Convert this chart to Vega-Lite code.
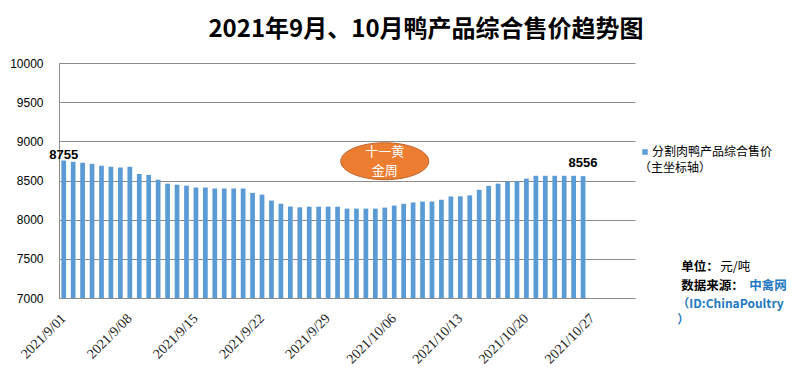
{
  "$schema": "https://vega.github.io/schema/vega-lite/v6.json",
  "width": 576,
  "height": 235,
  "autosize": {"type": "none"},
  "padding": {"left": 59, "top": 63, "right": 163, "bottom": 85},
  "background": "white",
  "config": {"view": {"stroke": null}},
  "title": {
    "text": "2021年9月、10月鸭产品综合售价趋势图",
    "font": "Noto Sans CJK SC",
    "fontSize": 24,
    "fontWeight": "bold",
    "color": "#000000",
    "anchor": "middle",
    "dx": 79,
    "offset": 15
  },
  "resolve": {"axis": {"x": "independent", "y": "independent"}},
  "datasets": {
    "prices": [
      {"date": "2021/9/01", "price": 8755},
      {"date": "2021/9/02", "price": 8739},
      {"date": "2021/9/03", "price": 8726},
      {"date": "2021/9/04", "price": 8713},
      {"date": "2021/9/05", "price": 8688},
      {"date": "2021/9/06", "price": 8676},
      {"date": "2021/9/07", "price": 8667},
      {"date": "2021/9/08", "price": 8676},
      {"date": "2021/9/09", "price": 8583},
      {"date": "2021/9/10", "price": 8570},
      {"date": "2021/9/11", "price": 8510},
      {"date": "2021/9/12", "price": 8460},
      {"date": "2021/9/13", "price": 8446},
      {"date": "2021/9/14", "price": 8434},
      {"date": "2021/9/15", "price": 8410},
      {"date": "2021/9/16", "price": 8410},
      {"date": "2021/9/17", "price": 8398},
      {"date": "2021/9/18", "price": 8398},
      {"date": "2021/9/19", "price": 8398},
      {"date": "2021/9/20", "price": 8398},
      {"date": "2021/9/21", "price": 8342},
      {"date": "2021/9/22", "price": 8319},
      {"date": "2021/9/23", "price": 8244},
      {"date": "2021/9/24", "price": 8203},
      {"date": "2021/9/25", "price": 8168},
      {"date": "2021/9/26", "price": 8158},
      {"date": "2021/9/27", "price": 8166},
      {"date": "2021/9/28", "price": 8166},
      {"date": "2021/9/29", "price": 8166},
      {"date": "2021/9/30", "price": 8166},
      {"date": "2021/10/01", "price": 8141},
      {"date": "2021/10/02", "price": 8141},
      {"date": "2021/10/03", "price": 8141},
      {"date": "2021/10/04", "price": 8141},
      {"date": "2021/10/05", "price": 8154},
      {"date": "2021/10/06", "price": 8180},
      {"date": "2021/10/07", "price": 8203},
      {"date": "2021/10/08", "price": 8220},
      {"date": "2021/10/09", "price": 8231},
      {"date": "2021/10/10", "price": 8231},
      {"date": "2021/10/11", "price": 8254},
      {"date": "2021/10/12", "price": 8296},
      {"date": "2021/10/13", "price": 8298},
      {"date": "2021/10/14", "price": 8310},
      {"date": "2021/10/15", "price": 8381},
      {"date": "2021/10/16", "price": 8432},
      {"date": "2021/10/17", "price": 8460},
      {"date": "2021/10/18", "price": 8487},
      {"date": "2021/10/19", "price": 8494},
      {"date": "2021/10/20", "price": 8524},
      {"date": "2021/10/21", "price": 8560},
      {"date": "2021/10/22", "price": 8560},
      {"date": "2021/10/23", "price": 8560},
      {"date": "2021/10/24", "price": 8560},
      {"date": "2021/10/25", "price": 8560},
      {"date": "2021/10/26", "price": 8556}
    ]
  },
  "layer": [
    {
      "data": {"name": "prices"},
      "mark": {"type": "bar", "width": {"band": 0.5}},
      "encoding": {
        "x": {
          "field": "date",
          "type": "ordinal",
          "sort": null,
          "scale": {
            "type": "band",
            "paddingInner": 0,
            "paddingOuter": 0,
            "domain": ["2021/9/01","2021/9/02","2021/9/03","2021/9/04","2021/9/05","2021/9/06","2021/9/07","2021/9/08","2021/9/09","2021/9/10","2021/9/11","2021/9/12","2021/9/13","2021/9/14","2021/9/15","2021/9/16","2021/9/17","2021/9/18","2021/9/19","2021/9/20","2021/9/21","2021/9/22","2021/9/23","2021/9/24","2021/9/25","2021/9/26","2021/9/27","2021/9/28","2021/9/29","2021/9/30","2021/10/01","2021/10/02","2021/10/03","2021/10/04","2021/10/05","2021/10/06","2021/10/07","2021/10/08","2021/10/09","2021/10/10","2021/10/11","2021/10/12","2021/10/13","2021/10/14","2021/10/15","2021/10/16","2021/10/17","2021/10/18","2021/10/19","2021/10/20","2021/10/21","2021/10/22","2021/10/23","2021/10/24","2021/10/25","2021/10/26","2021/10/27","2021/10/28","2021/10/29","2021/10/30","2021/10/31"]
          },
          "axis": {
            "title": null,
            "values": ["2021/9/01","2021/9/08","2021/9/15","2021/9/22","2021/9/29","2021/10/06","2021/10/13","2021/10/20","2021/10/27"],
            "labelAngle": -45,
            "labelAlign": "right",
            "labelBaseline": "middle",
            "labelPadding": 18,
            "labelFont": "Liberation Serif",
            "labelFontSize": 14,
            "labelColor": "#222222",
            "labelOverlap": false,
            "ticks": false,
            "domainColor": "#8c8c8c",
            "domainWidth": 1,
            "grid": false
          }
        },
        "y": {
          "field": "price",
          "type": "quantitative",
          "scale": {"domain": [7000, 10000], "zero": false, "nice": false},
          "axis": {
            "title": null,
            "values": [7000, 7500, 8000, 8500, 9000, 9500, 10000],
            "format": "d",
            "labelFont": "Liberation Sans",
            "labelFontSize": 12,
            "labelColor": "#000000",
            "labelPadding": 16,
            "labelOverlap": false,
            "ticks": false,
            "grid": true,
            "gridColor": "#8c8c8c",
            "gridWidth": 1,
            "domainColor": "#8c8c8c",
            "domainWidth": 1
          }
        },
        "y2": {"datum": 7000},
        "color": {
          "datum": "分割肉鸭产品综合售价",
          "scale": {"range": ["#5B9BD5"]},
          "legend": {
            "title": "（主坐标轴）",
            "titleOrient": "bottom",
            "titleFont": "Noto Sans CJK SC",
            "titleFontSize": 12,
            "titleFontWeight": "normal",
            "titleColor": "#000000",
            "titlePadding": 5,
            "titleAnchor": "start",
            "orient": "none",
            "legendX": 580,
            "legendY": 83,
            "symbolType": "square",
            "symbolSize": 30,
            "symbolStrokeWidth": 0,
            "labelFont": "Noto Sans CJK SC",
            "labelFontSize": 12,
            "labelColor": "#000000",
            "labelBaseline": "middle",
            "labelOffset": 1,
            "labelLimit": 200
          }
        }
      }
    },
    {
      "data": {"name": "prices"},
      "transform": [{"filter": "datum.date === '2021/9/01'"}],
      "mark": {"type": "text", "font": "Liberation Sans", "fontSize": 13, "fontWeight": "bold", "color": "#000000", "baseline": "middle", "dy": -6},
      "encoding": {
        "x": {"field": "date", "type": "ordinal", "sort": null, "axis": null},
        "y": {"field": "price", "type": "quantitative", "axis": null},
        "text": {"field": "price", "type": "quantitative", "format": "d"}
      }
    },
    {
      "data": {"name": "prices"},
      "transform": [{"filter": "datum.date === '2021/10/26'"}],
      "mark": {"type": "text", "font": "Liberation Sans", "fontSize": 13, "fontWeight": "bold", "color": "#000000", "baseline": "middle", "dy": -13},
      "encoding": {
        "x": {"field": "date", "type": "ordinal", "sort": null, "axis": null},
        "y": {"field": "price", "type": "quantitative", "axis": null},
        "text": {"field": "price", "type": "quantitative", "format": "d"}
      }
    },
    {
      "data": {"values": [{"note": "十一黄\n金周"}]},
      "mark": {"type": "point", "shape": "M-1,0A1,0.42,0,1,1,1,0A1,0.42,0,1,1,-1,0Z", "size": 7744, "filled": true, "fill": "#ED7D31", "stroke": "#C0632A", "strokeWidth": 1, "opacity": 1},
      "encoding": {
        "x": {"datum": "2021/10/05", "type": "ordinal", "axis": null},
        "y": {"datum": 8746, "type": "quantitative", "axis": null}
      }
    },
    {
      "data": {"values": [{"note": "十一黄\n金周"}]},
      "mark": {"type": "text", "font": "Noto Sans CJK SC", "fontSize": 13, "color": "#FFFFFF", "lineBreak": "\n", "lineHeight": 19, "baseline": "middle", "align": "center", "dy": -9},
      "encoding": {
        "x": {"datum": "2021/10/05", "type": "ordinal", "axis": null},
        "y": {"datum": 8746, "type": "quantitative", "axis": null},
        "text": {"field": "note"}
      }
    },
    {
      "data": {"values": [{"t": "单位："}]},
      "mark": {"type": "text", "font": "Noto Sans CJK SC", "fontSize": 12.5, "fontWeight": "bold", "color": "#000000", "align": "left", "baseline": "middle", "dx": 51},
      "encoding": {
        "x": {"datum": "2021/10/31", "type": "ordinal", "axis": null},
        "y": {"datum": 7396, "type": "quantitative", "axis": null},
        "text": {"field": "t"}
      }
    },
    {
      "data": {"values": [{"t": "元/吨"}]},
      "mark": {"type": "text", "font": "Noto Sans CJK SC", "fontSize": 12.5, "color": "#000000", "align": "left", "baseline": "middle", "dx": 90},
      "encoding": {
        "x": {"datum": "2021/10/31", "type": "ordinal", "axis": null},
        "y": {"datum": 7396, "type": "quantitative", "axis": null},
        "text": {"field": "t"}
      }
    },
    {
      "data": {"values": [{"t": "数据来源："}]},
      "mark": {"type": "text", "font": "Noto Sans CJK SC", "fontSize": 12.5, "fontWeight": "bold", "color": "#000000", "align": "left", "baseline": "middle", "dx": 51},
      "encoding": {
        "x": {"datum": "2021/10/31", "type": "ordinal", "axis": null},
        "y": {"datum": 7157, "type": "quantitative", "axis": null},
        "text": {"field": "t"}
      }
    },
    {
      "data": {"values": [{"t": "中禽网"}]},
      "mark": {"type": "text", "font": "Noto Sans CJK SC", "fontSize": 12.5, "fontWeight": "bold", "color": "#1F78C1", "align": "left", "baseline": "middle", "dx": 119},
      "encoding": {
        "x": {"datum": "2021/10/31", "type": "ordinal", "axis": null},
        "y": {"datum": 7157, "type": "quantitative", "axis": null},
        "text": {"field": "t"}
      }
    },
    {
      "data": {"values": [{"t": "（ID:ChinaPoultry"}]},
      "mark": {"type": "text", "font": "Noto Sans CJK SC", "fontSize": 12, "fontWeight": "bold", "color": "#1F78C1", "align": "left", "baseline": "middle", "dx": 47},
      "encoding": {
        "x": {"datum": "2021/10/31", "type": "ordinal", "axis": null},
        "y": {"datum": 6923, "type": "quantitative", "axis": null},
        "text": {"field": "t"}
      }
    },
    {
      "data": {"values": [{"t": "）"}]},
      "mark": {"type": "text", "font": "Noto Sans CJK SC", "fontSize": 12, "fontWeight": "bold", "color": "#1F78C1", "align": "left", "baseline": "middle", "dx": 47},
      "encoding": {
        "x": {"datum": "2021/10/31", "type": "ordinal", "axis": null},
        "y": {"datum": 6719, "type": "quantitative", "axis": null},
        "text": {"field": "t"}
      }
    }
  ]
}
